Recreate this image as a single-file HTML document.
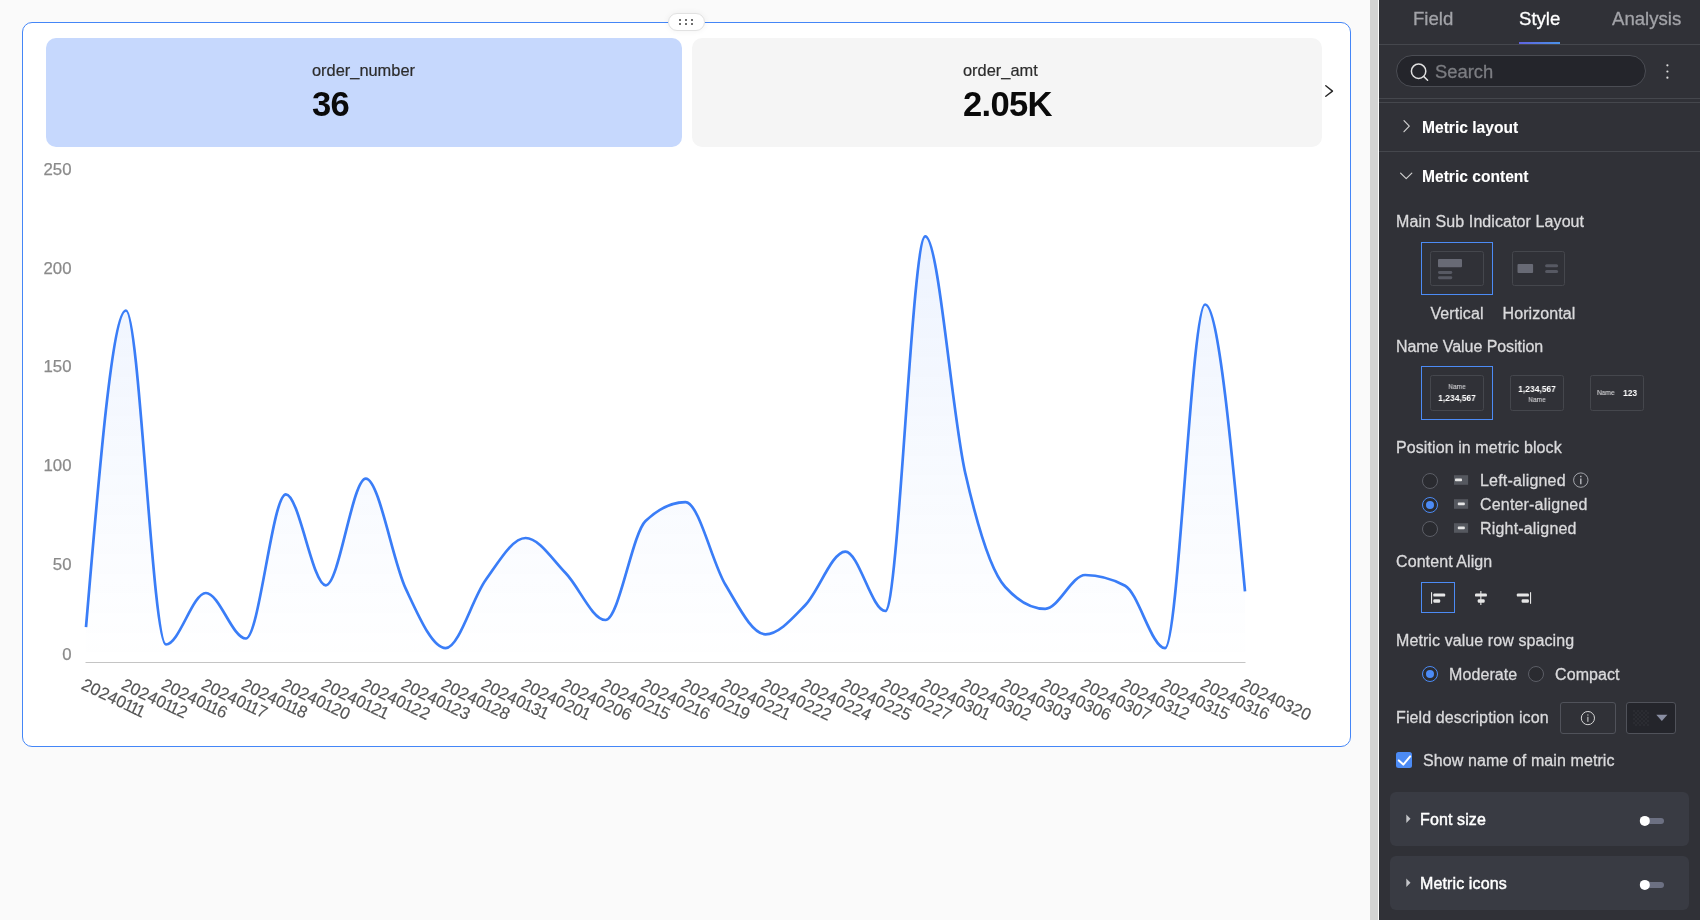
<!DOCTYPE html>
<html lang="en">
<head>
<meta charset="utf-8">
<title>Metric trend - Style</title>
<style>
*{box-sizing:border-box;margin:0;padding:0}
html,body{width:1700px;height:920px;overflow:hidden}
body{position:relative;background:#fafafa;font-family:"Liberation Sans",sans-serif;color:#333}
.abs{position:absolute}
/* ---------- left canvas ---------- */
#canvas{position:absolute;left:0;top:0;width:1370px;height:920px;background:#fafafa}
#widget{position:absolute;left:22px;top:22px;width:1329px;height:725px;background:#fff;border:1px solid #4486f7;border-radius:10px}
#handle{position:absolute;left:668px;top:13px;width:37px;height:18px;border-radius:9px;background:#fff;border:1px solid #e2e2e2;box-shadow:0 0 6px rgba(0,0,0,.06)}
#handle i{position:absolute;width:2px;height:2px;background:#555;border-radius:.7px}
.kpi{position:absolute;top:38px;height:109px;border-radius:10px}
#kpi1{left:46px;width:636px;background:#c6d8fd}
#kpi2{left:692px;width:630px;background:#f5f5f5}
.kpi .nm{position:absolute;will-change:transform;font-size:16.4px;line-height:20px;color:#2c2c2c;-webkit-text-stroke:.2px currentColor;white-space:nowrap}
.kpi .vl{position:absolute;will-change:transform;font-size:34.6px;line-height:36px;letter-spacing:-.7px;font-weight:bold;color:#0a0a0a;white-space:nowrap}
#chart{will-change:transform;position:absolute;left:0;top:0;width:1370px;height:920px}
#chart .xl text{font-size:17px;fill:#555;stroke:#555;stroke-width:.15px}
#chart .yl text{font-size:16.8px;fill:#8a8a8a;stroke:#8a8a8a;stroke-width:.25px}
#vbar{position:absolute;left:1370px;top:0;width:8.2px;height:920px;background:#d3d3d3}
/* ---------- right panel ---------- */
#panel{position:absolute;left:1379px;top:0;width:321px;height:920px;background:#303137;color:#e6e6e6;font-size:16px}
#panel .t{position:absolute;will-change:transform;white-space:nowrap;line-height:20px;-webkit-text-stroke:.3px currentColor}

#panel .tab{font-size:18.6px}
#panel .hr{position:absolute;left:0;width:321px;height:1px;background:#45474d}
#panel .sh{font-weight:bold;font-size:15.6px;color:#fff;-webkit-text-stroke:.1px currentColor;margin-left:-.7px}
#panel .lb{color:#dadadc;letter-spacing:.09px}
#panel .sel{position:absolute;border:1px solid #4c8bf5}
#panel .ibox{position:absolute;border:1px solid #45474d;border-radius:2.5px}
#panel .mn{font-size:7.1px;line-height:8px;color:#d0d0d3;text-align:center;-webkit-text-stroke:0;transform:scaleX(.93);-webkit-text-stroke:.12px currentColor}
#panel .mv{font-size:9.3px;line-height:10px;font-weight:bold;color:#fff;text-align:center;-webkit-text-stroke:0;transform:scaleX(.91)}
#panel .rd{position:absolute;width:16px;height:16px;border-radius:50%;border:1px solid #5c5e66;background:#2a2b30}
#panel .rd.on{border:1.5px solid #4c8bf5}
#panel .rd.on b{position:absolute;left:50%;top:50%;width:8px;height:8px;margin:-4px 0 0 -4px;border-radius:50%;background:#4c8bf5}
#panel .card{position:absolute;left:11px;width:299px;height:54px;border-radius:6px;background:#393b43}
#panel .cd{color:#fff;-webkit-text-stroke:.45px currentColor;letter-spacing:.12px}
</style>
</head>
<body>
<div id="canvas">
  <div id="widget"></div>
  <div id="handle">
    <i style="left:10.4px;top:4.6px"></i><i style="left:16.2px;top:4.6px"></i><i style="left:22px;top:4.6px"></i>
    <i style="left:10.4px;top:9.3px"></i><i style="left:16.2px;top:9.3px"></i><i style="left:22px;top:9.3px"></i>
  </div>
  <div class="kpi" id="kpi1">
    <div class="nm" style="left:266px;top:22px">order_number</div>
    <div class="vl" style="left:266.2px;top:47.5px">36</div>
  </div>
  <div class="kpi" id="kpi2">
    <div class="nm" style="left:271px;top:22px">order_amt</div>
    <div class="vl" style="left:270.6px;top:47.5px">2.05K</div>
  </div>
  <svg id="chart" width="1370" height="920" viewBox="0 0 1370 920">
    <defs>
      <linearGradient id="ag" gradientUnits="userSpaceOnUse" x1="0" y1="236" x2="0" y2="662">
        <stop offset="0" stop-color="#3478f6" stop-opacity="0.085"/>
        <stop offset="1" stop-color="#3478f6" stop-opacity="0"/>
      </linearGradient>
    </defs>
    <!-- next arrow -->
    <path d="M1325.8,85.8 L1332.5,91.1 L1325.8,96.3" fill="none" stroke="#262626" stroke-width="1.4" stroke-linecap="round" stroke-linejoin="round"/>
    <g class="yl">
<text x="71.5" y="175.2" text-anchor="end">250</text>
<text x="71.5" y="273.8" text-anchor="end">200</text>
<text x="71.5" y="372.4" text-anchor="end">150</text>
<text x="71.5" y="471.0" text-anchor="end">100</text>
<text x="71.5" y="569.7" text-anchor="end">50</text>
<text x="71.5" y="660.4" text-anchor="end">0</text>

    </g>
    <path d="M86.00,627.20C99.32,468.85,112.64,310.50,125.97,310.50C139.29,310.50,152.61,644.50,165.93,644.50C179.25,644.50,192.58,593.00,205.90,593.00C219.22,593.00,232.54,638.50,245.86,638.50C259.19,638.50,272.51,494.30,285.83,494.30C299.15,494.30,312.47,585.30,325.80,585.30C339.12,585.30,352.44,478.60,365.76,478.60C379.08,478.60,392.41,560.45,405.73,588.70C419.05,616.95,432.37,648.10,445.69,648.10C459.02,648.10,472.34,598.35,485.66,580.00C498.98,561.65,512.30,538.00,525.63,538.00C538.95,538.00,552.27,559.33,565.59,573.00C578.91,586.67,592.24,620.00,605.56,620.00C618.88,620.00,632.20,533.60,645.52,521.00C658.85,508.40,672.17,502.10,685.49,502.10C698.81,502.10,712.13,562.77,725.46,584.80C738.78,606.83,752.10,634.30,765.42,634.30C778.74,634.30,792.07,618.78,805.39,605.00C818.71,591.22,832.03,551.60,845.35,551.60C858.68,551.60,872.00,611.00,885.32,611.00C898.64,611.00,911.96,236.40,925.29,236.40C938.61,236.40,951.93,414.57,965.25,473.00C978.57,531.43,991.90,572.47,1005.22,587.00C1018.54,601.53,1031.86,608.80,1045.18,608.80C1058.51,608.80,1071.83,575.00,1085.15,575.00C1098.47,575.00,1111.79,578.57,1125.12,585.70C1138.44,592.83,1151.76,648.20,1165.08,648.20C1178.40,648.20,1191.73,304.50,1205.05,304.50C1218.37,304.50,1231.69,447.90,1245.01,591.30L1245.01,662.50 L86.00,662.50 Z" fill="url(#ag)"/>
    <line x1="85.5" y1="662.5" x2="1245.5" y2="662.5" stroke="#c4c4c4" stroke-width="1"/>
    <path d="M86.00,627.20C99.32,468.85,112.64,310.50,125.97,310.50C139.29,310.50,152.61,644.50,165.93,644.50C179.25,644.50,192.58,593.00,205.90,593.00C219.22,593.00,232.54,638.50,245.86,638.50C259.19,638.50,272.51,494.30,285.83,494.30C299.15,494.30,312.47,585.30,325.80,585.30C339.12,585.30,352.44,478.60,365.76,478.60C379.08,478.60,392.41,560.45,405.73,588.70C419.05,616.95,432.37,648.10,445.69,648.10C459.02,648.10,472.34,598.35,485.66,580.00C498.98,561.65,512.30,538.00,525.63,538.00C538.95,538.00,552.27,559.33,565.59,573.00C578.91,586.67,592.24,620.00,605.56,620.00C618.88,620.00,632.20,533.60,645.52,521.00C658.85,508.40,672.17,502.10,685.49,502.10C698.81,502.10,712.13,562.77,725.46,584.80C738.78,606.83,752.10,634.30,765.42,634.30C778.74,634.30,792.07,618.78,805.39,605.00C818.71,591.22,832.03,551.60,845.35,551.60C858.68,551.60,872.00,611.00,885.32,611.00C898.64,611.00,911.96,236.40,925.29,236.40C938.61,236.40,951.93,414.57,965.25,473.00C978.57,531.43,991.90,572.47,1005.22,587.00C1018.54,601.53,1031.86,608.80,1045.18,608.80C1058.51,608.80,1071.83,575.00,1085.15,575.00C1098.47,575.00,1111.79,578.57,1125.12,585.70C1138.44,592.83,1151.76,648.20,1165.08,648.20C1178.40,648.20,1191.73,304.50,1205.05,304.50C1218.37,304.50,1231.69,447.90,1245.01,591.30" fill="none" stroke="#3a7df7" stroke-width="2.7" stroke-linejoin="round" stroke-linecap="butt"/>
    <g class="xl">
<text transform="translate(80.30,688.50) rotate(25.5)" dx="0 0 0 0 0 -0.95 -1.9 -1.9">20240111</text>
<text transform="translate(120.27,688.50) rotate(25.5)" dx="0 0 0 0 0 -0.95 -1.9 -0.95">20240112</text>
<text transform="translate(160.23,688.50) rotate(25.5)" dx="0 0 0 0 0 -0.95 -1.9 -0.95">20240116</text>
<text transform="translate(200.20,688.50) rotate(25.5)" dx="0 0 0 0 0 -0.95 -1.9 -0.95">20240117</text>
<text transform="translate(240.16,688.50) rotate(25.5)" dx="0 0 0 0 0 -0.95 -1.9 -0.95">20240118</text>
<text transform="translate(280.13,688.50) rotate(25.5)" dx="0 0 0 0 0 -0.95 -0.95 0">20240120</text>
<text transform="translate(320.10,688.50) rotate(25.5)" dx="0 0 0 0 0 -0.95 -0.95 -0.95">20240121</text>
<text transform="translate(360.06,688.50) rotate(25.5)" dx="0 0 0 0 0 -0.95 -0.95 0">20240122</text>
<text transform="translate(400.03,688.50) rotate(25.5)" dx="0 0 0 0 0 -0.95 -0.95 0">20240123</text>
<text transform="translate(439.99,688.50) rotate(25.5)" dx="0 0 0 0 0 -0.95 -0.95 0">20240128</text>
<text transform="translate(479.96,688.50) rotate(25.5)" dx="0 0 0 0 0 -0.95 -0.95 -0.95">20240131</text>
<text transform="translate(519.93,688.50) rotate(25.5)" dx="0 0 0 0 0 0 0 -0.95">20240201</text>
<text transform="translate(559.89,688.50) rotate(25.5)" dx="0 0 0 0 0 0 0 0">20240206</text>
<text transform="translate(599.86,688.50) rotate(25.5)" dx="0 0 0 0 0 0 -0.95 -0.95">20240215</text>
<text transform="translate(639.82,688.50) rotate(25.5)" dx="0 0 0 0 0 0 -0.95 -0.95">20240216</text>
<text transform="translate(679.79,688.50) rotate(25.5)" dx="0 0 0 0 0 0 -0.95 -0.95">20240219</text>
<text transform="translate(719.76,688.50) rotate(25.5)" dx="0 0 0 0 0 0 0 -0.95">20240221</text>
<text transform="translate(759.72,688.50) rotate(25.5)" dx="0 0 0 0 0 0 0 0">20240222</text>
<text transform="translate(799.69,688.50) rotate(25.5)" dx="0 0 0 0 0 0 0 0">20240224</text>
<text transform="translate(839.65,688.50) rotate(25.5)" dx="0 0 0 0 0 0 0 0">20240225</text>
<text transform="translate(879.62,688.50) rotate(25.5)" dx="0 0 0 0 0 0 0 0">20240227</text>
<text transform="translate(919.59,688.50) rotate(25.5)" dx="0 0 0 0 0 0 0 -0.95">20240301</text>
<text transform="translate(959.55,688.50) rotate(25.5)" dx="0 0 0 0 0 0 0 0">20240302</text>
<text transform="translate(999.52,688.50) rotate(25.5)" dx="0 0 0 0 0 0 0 0">20240303</text>
<text transform="translate(1039.48,688.50) rotate(25.5)" dx="0 0 0 0 0 0 0 0">20240306</text>
<text transform="translate(1079.45,688.50) rotate(25.5)" dx="0 0 0 0 0 0 0 0">20240307</text>
<text transform="translate(1119.42,688.50) rotate(25.5)" dx="0 0 0 0 0 0 -0.95 -0.95">20240312</text>
<text transform="translate(1159.38,688.50) rotate(25.5)" dx="0 0 0 0 0 0 -0.95 -0.95">20240315</text>
<text transform="translate(1199.35,688.50) rotate(25.5)" dx="0 0 0 0 0 0 -0.95 -0.95">20240316</text>
<text transform="translate(1239.31,688.50) rotate(25.5)" dx="0 0 0 0 0 0 0 0">20240320</text>
    </g>
  </svg>
</div>
<div id="vbar"></div>
<div id="panel">
  <!-- tabs -->
  <div class="t tab" style="left:34.3px;top:9.2px;color:#a2a3a8">Field</div>
  <div class="t tab" style="left:139.9px;top:9.2px;color:#fff">Style</div>
  <div class="t tab" style="left:232.6px;top:9.2px;color:#a2a3a8">Analysis</div>
  <div class="abs" style="left:140px;top:42px;width:41px;height:2px;background:linear-gradient(90deg,#6063e0,#4a92e8)"></div>
  <div class="hr" style="top:44px"></div>
  <!-- search -->
  <div class="abs" style="left:17px;top:55px;width:250px;height:32px;border-radius:16px;background:#24252b;border:1px solid #4b4d54"></div>
  <div class="t" style="left:56.2px;top:62px;font-size:18.4px;color:#7c7d82">Search</div>
  <div class="hr" style="top:98px"></div>
  <div class="hr" style="top:102px"></div>
  <!-- section headers -->
  <div class="t sh" style="left:43.7px;top:118.1px">Metric layout</div>
  <div class="hr" style="top:151px"></div>
  <div class="t sh" style="left:43.7px;top:167.1px">Metric content</div>
  <!-- main/sub indicator layout -->
  <div class="t lb" style="left:17.2px;top:212.1px">Main Sub Indicator Layout</div>
  <div class="sel" style="left:42px;top:242px;width:72px;height:53px"></div>
  <div class="ibox" style="left:51px;top:251px;width:54px;height:35px"></div>
  <div class="ibox" style="left:133px;top:251px;width:53px;height:35px"></div>
  <div class="t lb" style="left:28px;width:100px;text-align:center;top:303.9px">Vertical</div>
  <div class="t lb" style="left:109.6px;width:100px;text-align:center;top:303.9px">Horizontal</div>
  <!-- name value position -->
  <div class="t lb" style="left:17.2px;top:336.5px;letter-spacing:-.06px">Name Value Position</div>
  <div class="sel" style="left:42px;top:366px;width:72px;height:54px"></div>
  <div class="ibox" style="left:51px;top:375px;width:54px;height:36px"></div>
  <div class="ibox" style="left:131px;top:375px;width:54px;height:36px"></div>
  <div class="ibox" style="left:211px;top:375px;width:54px;height:36px"></div>
  <div class="t mn" style="left:51px;width:54px;top:383px">Name</div>
  <div class="t mv" style="left:51px;width:54px;top:392.5px">1,234,567</div>
  <div class="t mv" style="left:131px;width:54px;top:383.6px">1,234,567</div>
  <div class="t mn" style="left:131px;width:54px;top:395.5px">Name</div>
  <div class="t mn" style="left:217.7px;top:389.3px;text-align:left;transform-origin:0 50%">Name</div>
  <div class="t mv" style="left:244.1px;top:388.3px;text-align:left;transform-origin:0 50%">123</div>
  <!-- position in metric block -->
  <div class="t lb" style="left:17.2px;top:438.4px">Position in metric block</div>
  <div class="rd" style="left:43px;top:472.5px"></div>
  <div class="rd on" style="left:43px;top:496.5px"><b></b></div>
  <div class="rd" style="left:43px;top:520.5px"></div>
  <div class="t lb" style="left:101.4px;top:470.8px;letter-spacing:.18px">Left-aligned</div>
  <div class="t lb" style="left:101.4px;top:494.8px;letter-spacing:.18px">Center-aligned</div>
  <div class="t lb" style="left:101.4px;top:519.0px;letter-spacing:.18px">Right-aligned</div>
  <!-- content align -->
  <div class="t lb" style="left:17.2px;top:552.4px">Content Align</div>
  <div class="sel" style="left:42px;top:582px;width:34px;height:31px"></div>
  <!-- row spacing -->
  <div class="t lb" style="left:17.2px;top:631.4px">Metric value row spacing</div>
  <div class="rd on" style="left:43px;top:666px"><b></b></div>
  <div class="t lb" style="left:69.8px;top:664.6px">Moderate</div>
  <div class="rd" style="left:149px;top:666px"></div>
  <div class="t lb" style="left:176.3px;top:664.6px">Compact</div>
  <!-- field description icon -->
  <div class="t lb" style="left:17.2px;top:707.9px;letter-spacing:.11px">Field description icon</div>
  <div class="abs" style="left:181px;top:702px;width:56px;height:32px;border:1px solid #50525a;border-radius:3px"></div>
  <div class="abs" style="left:247px;top:702px;width:50px;height:32px;border:1px solid #50525a;border-radius:3px;background:#24252b"></div>
  <!-- checkbox -->
  <div class="abs" style="left:17px;top:752px;width:16px;height:16px;border-radius:2.5px;background:#4c8bf5"></div>
  <div class="t lb" style="left:43.6px;top:750.9px">Show name of main metric</div>
  <!-- cards -->
  <div class="card" style="top:792px"></div>
  <div class="card" style="top:856px"></div>
  <div class="t cd" style="left:41.2px;top:809.7px">Font size</div>
  <div class="t cd" style="left:41.2px;top:873.7px">Metric icons</div>
  <!-- icons overlay -->
  <svg class="abs" style="left:0;top:0" width="321" height="920" viewBox="0 0 321 920">
    <!-- search icon -->
    <circle cx="39.6" cy="71.2" r="7.2" fill="none" stroke="#e0e0e0" stroke-width="1.5"/>
    <path d="M44.9,76.6 L48.6,80.2" stroke="#e0e0e0" stroke-width="1.5" stroke-linecap="round"/>
    <!-- kebab -->
    <circle cx="288.4" cy="65.3" r="1.1" fill="#dcdcdc"/><circle cx="288.4" cy="71.5" r="1.1" fill="#dcdcdc"/><circle cx="288.4" cy="77.7" r="1.1" fill="#dcdcdc"/>
    <!-- chevrons -->
    <path d="M25,120.7 L30.3,126.2 L25,131.7" fill="none" stroke="#d0d0d0" stroke-width="1.2" stroke-linecap="round" stroke-linejoin="round"/>
    <path d="M21.6,173.1 L27.2,178.6 L32.8,173.1" fill="none" stroke="#d0d0d0" stroke-width="1.2" stroke-linecap="round" stroke-linejoin="round"/>
    <!-- layout icons -->
    <rect x="59" y="259" width="24" height="8.3" rx="1" fill="#686a75"/>
    <rect x="59" y="271" width="14.3" height="3" rx="1.4" fill="#575963"/>
    <rect x="59" y="276.2" width="14.3" height="3" rx="1.4" fill="#575963"/>
    <rect x="138.5" y="264" width="15.6" height="9" rx="1" fill="#686a75"/>
    <rect x="166.1" y="264.2" width="13" height="3" rx="1.5" fill="#575963"/>
    <rect x="166.1" y="269.9" width="13" height="3" rx="1.5" fill="#575963"/>
    <!-- position icons -->
    <g fill="#55585f">
      <rect x="75" y="475.2" width="14.1" height="9.6"/><rect x="75" y="499.2" width="14.1" height="9.6"/><rect x="75" y="523.2" width="14.1" height="9.6"/>
    </g>
    <g fill="#e6e6e6">
      <rect x="76" y="478.6" width="7" height="2.7" rx=".8"/><rect x="78.8" y="502.6" width="7" height="2.7" rx=".8"/><rect x="78.8" y="526.6" width="7" height="2.7" rx=".8"/>
    </g>
    <!-- info icon after Left-aligned -->
    <g fill="none" stroke="#a4a6ac">
      <circle cx="201.8" cy="480.1" r="7.2" stroke-width="1"/>
      <path d="M201.8,478.6 V484.3 M201.8,475.7 V477.2" stroke-width="1.4" stroke="#b8babf"/>
    </g>
    <!-- content align icons -->
    <g fill="#e6e6e6">
      <rect x="52" y="592.2" width="1.1" height="11.6"/>
      <rect x="54.3" y="593.4" width="11.9" height="3.2" rx="1.2"/><rect x="54.3" y="599.3" width="6.9" height="3.4" rx="1.2"/>
      <rect x="101.3" y="591" width="1.1" height="14"/>
      <rect x="96" y="593.4" width="11.9" height="3.2" rx="1.2"/><rect x="98.7" y="599.3" width="7" height="3.4" rx="1.2"/>
      <rect x="151" y="592.2" width="1.1" height="11.6"/>
      <rect x="137.8" y="593.4" width="12.1" height="3.2" rx="1.2"/><rect x="142.6" y="599.3" width="7.3" height="3.4" rx="1.2"/>
    </g>
    <!-- field description: info icon + caret -->
    <g fill="none" stroke="#d8d8d8" stroke-width="1">
      <circle cx="208.9" cy="718.1" r="6.6"/>
      <path d="M208.9,716.8 V721.8 M208.9,714.4 V715.6"/>
    </g>
    <defs><pattern id="ck" x="254" y="710" width="4" height="4" patternUnits="userSpaceOnUse"><rect width="2" height="2" fill="#2b2c32"/><rect x="2" y="2" width="2" height="2" fill="#2b2c32"/></pattern></defs>
    <rect x="254" y="710" width="16" height="16" fill="url(#ck)"/>
    <path d="M277.3,714.7 L288.4,714.7 L282.85,721 Z" fill="#8a8fa3"/>
    <!-- checkbox tick -->
    <path d="M19.8,760.4 L24.3,764.6 L31.2,756.4" fill="none" stroke="#fff" stroke-width="2" stroke-linecap="round" stroke-linejoin="round"/>
    <!-- card carets -->
    <path d="M27.3,814.6 L31.5,818.8 L27.3,823 Z" fill="#c4c5c9"/>
    <path d="M27.3,878.6 L31.5,882.8 L27.3,887 Z" fill="#c4c5c9"/>
    <!-- toggles -->
    <rect x="263.8" y="818" width="21.2" height="6" rx="3" fill="#6c7082"/><circle cx="265.8" cy="820.9" r="5" fill="#fff"/>
    <rect x="263.8" y="882" width="21.2" height="6" rx="3" fill="#6c7082"/><circle cx="265.8" cy="884.9" r="5" fill="#fff"/>
  </svg>

</div>
</body>
</html>
